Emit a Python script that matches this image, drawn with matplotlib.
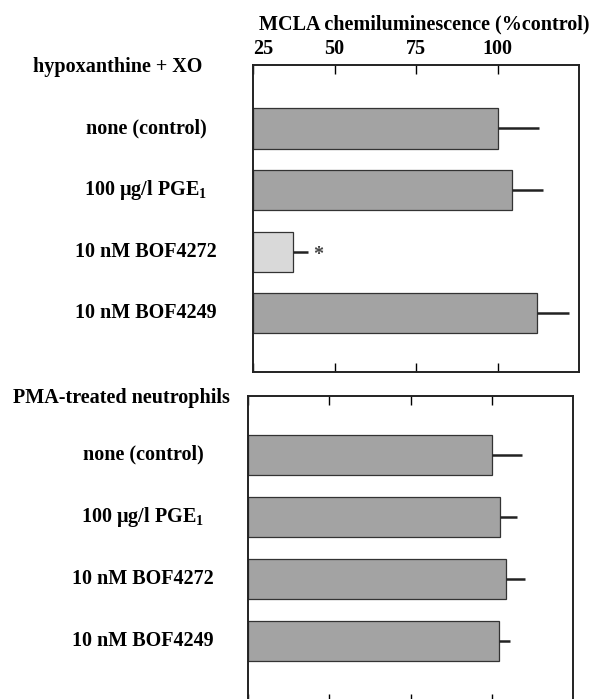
import matplotlib
matplotlib.use('Agg')
import matplotlib.pyplot as plt
from matplotlib.transforms import blended_transform_factory

plt.rcParams['font.family'] = ['Liberation Serif', 'DejaVu Serif']
plt.rcParams['font.weight'] = 'bold'
plt.rcParams['mathtext.fontset'] = 'custom'
plt.rcParams['mathtext.rm'] = 'Liberation Serif:bold'
plt.rcParams['mathtext.it'] = 'Liberation Serif:bold'
plt.rcParams['mathtext.bf'] = 'Liberation Serif:bold'
plt.rcParams['mathtext.default'] = 'rm'

# data
treatments = ['none (control)', '100 \u00b5g/l PGE$_1$',
              '10 nM BOF4272', '10 nM BOF4249']
group_titles = ['hypoxanthine + XO', 'PMA-treated neutrophils']
xo_mean = [100.0, 104.4, 37.4, 112.1]
xo_err = [12.8, 9.5, 4.6, 9.9]
pma_mean = [100.0, 102.6, 104.4, 102.2]
pma_err = [9.2, 5.2, 5.8, 3.4]
xo_signif = [False, False, True, False]
tick_values = [25, 50, 75, 100]

DARK = '#a3a3a3'
LIGHT = '#d9d9d9'
FS = 14.5

fig = plt.figure(figsize=(5.95, 6.99), dpi=100)
ax_top = fig.add_axes([253 / 595, 1 - 372 / 699, 326 / 595, 307 / 699])
ax_bot = fig.add_axes([248 / 595, 1 - 703 / 699, 325 / 595, 307 / 699])

panels = [
    (ax_top, xo_mean, xo_err, xo_signif, (3.95, -1.03), 146),
    (ax_bot, pma_mean, pma_err, [False] * 4, (4.0, -0.95), 143),
]

for i, (ax, means, errs, signif, ylim, label_x) in enumerate(panels):
    ypos = list(range(len(means)))
    colors = [LIGHT if s else DARK for s in signif]
    ax.barh(ypos, [m - 25 for m in means], left=25, height=0.65,
            color=colors, edgecolor='#333333', linewidth=0.9, zorder=2)
    ax.errorbar(means, ypos, xerr=[[0] * len(errs), errs], fmt='none',
                ecolor='#222222', elinewidth=1.8, capsize=0, zorder=3)
    for y, m, e, s in zip(ypos, means, errs, signif):
        if s:
            ax.text(m + e + 3, y + 0.05, '*', fontsize=FS, ha='center',
                    va='center', color='#444444')

    ax.set_xlim(25, 125)
    ax.set_ylim(*ylim)
    ax.set_yticks([])
    ax.set_xticks(tick_values)
    ax.tick_params(axis='x', direction='in', length=6.5, width=1.0,
                   top=True, bottom=True, labeltop=(i == 0),
                   labelbottom=False, labelsize=FS, pad=4)
    for sp in ax.spines.values():
        sp.set_linewidth(1.4)
        sp.set_color('#222222')

    trans = blended_transform_factory(fig.transFigure, ax.transData)
    for y, name in zip(ypos, treatments):
        ax.text(label_x / 595, y, name, transform=trans, ha='center',
                va='center', fontsize=FS, fontweight='bold')

# the "25" label sits just right of the left spine
ax_top.xaxis.get_major_ticks()[0].label2.set_horizontalalignment('left')

fig.text(118 / 595, 1 - 67 / 699, group_titles[0], ha='center',
         va='center', fontsize=FS, fontweight='bold')
fig.text(121 / 595, 1 - 398 / 699, group_titles[1], ha='center',
         va='center', fontsize=FS, fontweight='bold')
fig.text(424 / 595, 1 - 24 / 699, 'MCLA chemiluminescence (%control)',
         ha='center', va='center', fontsize=FS, fontweight='bold')

fig.savefig('out.png', dpi=100)
